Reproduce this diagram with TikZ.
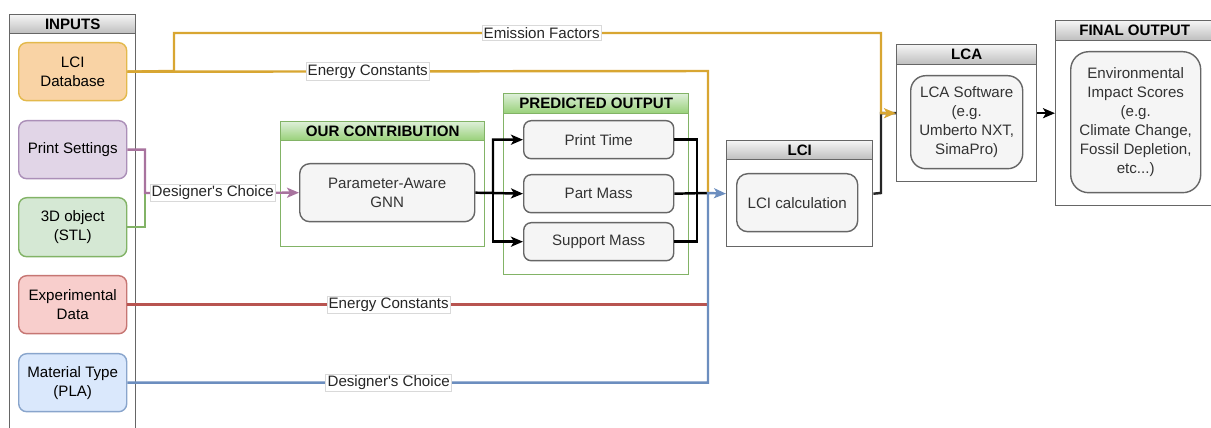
\documentclass[tikz,border=0pt]{standalone}
\usepackage{fontspec}
\setmainfont{Liberation Sans}
\usetikzlibrary{arrows.meta}
\definecolor{orF}{HTML}{F9D3A5}\definecolor{orS}{HTML}{D79B00}
\definecolor{puF}{HTML}{E1D5E7}\definecolor{puS}{HTML}{9673A6}
\definecolor{grF}{HTML}{D5E8D4}\definecolor{grS}{HTML}{82B366}
\definecolor{reF}{HTML}{F8CECC}\definecolor{reS}{HTML}{B85450}
\definecolor{blF}{HTML}{DAE8FC}\definecolor{blS}{HTML}{6C8EBF}
\definecolor{gyF}{HTML}{F5F5F5}\definecolor{gyS}{HTML}{666666}\definecolor{gyT}{HTML}{333333}
\definecolor{hdB}{HTML}{BDBDBD}\definecolor{ghT}{HTML}{DDEFD8}\definecolor{ghB}{HTML}{97D077}
\definecolor{yeL}{HTML}{D8A632}\definecolor{puL}{HTML}{A8739E}
\newcommand{\dfs}{\fontsize{8.6}{10.8}\selectfont}
\begin{document}
\begin{tikzpicture}[x=0.02cm,y=-0.02cm,
  px/.style 2 args={minimum width=#1*0.02cm,minimum height=#2*0.02cm},
  base/.style={anchor=north west,inner sep=0pt,align=center,font=\dfs,line width=0.8pt},
  inp/.style={base,rounded corners=1.6mm,draw},
  gnode/.style={base,draw=gyS,fill=gyF,text=gyT},
  lane/.style={anchor=north west,draw=#1,line width=0.8pt,inner sep=0pt},
  ghdr/.style={anchor=north west,draw=gyS,line width=0.8pt,inner sep=0pt,top color=gyF,bottom color=hdB,font=\dfs\bfseries},
  ohdr/.style={anchor=north west,draw=grS,line width=0.8pt,inner sep=0pt,top color=ghT,bottom color=ghB,font=\dfs\bfseries},
  edge/.style={line width=1.4pt,draw=#1},
  arr/.style={-{Stealth[length=2.4mm,width=2mm,inset=0.6mm]}},
  lbl/.style={fill=white,draw=black!15,line width=0.4pt,inner sep=1pt,font=\dfs,text=black!85}]
\useasboundingbox (0,0) rectangle (1211,428);
\fill[white] (0,0) rectangle (1211,428);
% lanes
\node[lane=gyS,px={126}{420}] (inputs) at (9,14) {};
\node[ghdr,px={126}{19}] (inputsh) at (9,14) {INPUTS};
\node[lane=grS,px={204}{125}] (contrib) at (280,121) {};
\node[ohdr,px={204}{19}] (contribh) at (280,121) {OUR CONTRIBUTION};
\node[lane=grS,px={185}{181}] (pred) at (503,93) {};
\node[ohdr,px={185}{20}] (predh) at (503,93) {PREDICTED OUTPUT};
\node[lane=gyS,px={146}{106}] (lci) at (726,140) {};
\node[ghdr,px={146}{19}] (lcih) at (726,140) {LCI};
\node[lane=gyS,px={140}{137}] (lca) at (896,44) {};
\node[ghdr,px={140}{20}] (lcah) at (896,44) {LCA};
\node[lane=gyS,px={158}{185}] (final) at (1055,20) {};
\node[ghdr,px={158}{20}] (finalh) at (1055,20) {FINAL OUTPUT};
% nodes
\node[inp,draw=orS!70,fill=orF,px={108}{58}] (lcidb) at (18,42) {LCI\\Database};
\node[inp,draw=puS!80,fill=puF,px={108}{58}] (ps) at (18,120) {Print Settings};
\node[inp,draw=grS,fill=grF,px={108}{59}] (obj) at (18,197) {3D object\\(STL)};
\node[inp,draw=reS!80,fill=reF,px={108}{58}] (exp) at (18,275) {Experimental\\Data};
\node[inp,draw=blS!80,fill=blF,px={108}{58}] (mat) at (18,353) {Material Type\\(PLA)};
\node[gnode,rounded corners=2mm,px={175}{58}] (gnn) at (299,163) {Parameter-Aware\\GNN};
\node[gnode,rounded corners=1.5mm,px={150}{38}] (pt) at (523,120) {Print Time};
\node[gnode,rounded corners=1.5mm,px={150}{38}] (pm) at (523,174) {Part Mass};
\node[gnode,rounded corners=1.5mm,px={150}{38}] (sm) at (523,222) {Support Mass};
\node[gnode,rounded corners=2.2mm,px={121}{58}] (lcic) at (736,173) {LCI calculation};
\node[gnode,rounded corners=3mm,px={112}{93}] (lcas) at (910,75) {LCA Software\\(e.g.\\Umberto NXT,\\SimaPro)};
\node[gnode,rounded corners=3.6mm,px={130}{141}] (env) at (1070,51) {Environmental\\Impact Scores\\(e.g.\\Climate Change,\\Fossil Depletion,\\etc...)};
% coordinates
\coordinate (jA) at (174,71);
\coordinate (jB) at (174,33);
\coordinate (jC) at (881,33);
\coordinate (jD) at (708,71);
\coordinate (jE) at (708,193);
\coordinate (jF) at (145,193);
\coordinate (jG) at (493,193);
\coordinate (jH) at (697,193);
\coordinate (jI) at (881,193);
% edges
\draw[edge=grS] (obj.east) -| (jF);
\draw[edge=puL,arr] (ps.east) -| (jF) -- node[lbl,pos=0.44]{Designer\textquotesingle s Choice} (gnn.west);
\draw[edge=black,arr] (gnn.east) -- (jG) |- (pt.west);
\draw[edge=black,arr] (jG) -- (pm.west);
\draw[edge=black,arr] (jG) |- (sm.west);
\draw[edge=black] (pt.east) -| (jH);
\draw[edge=black] (sm.east) -| (jH);
\draw[edge=black] (pm.east) -- (jE);
\draw[edge=yeL] (lcidb.east) -- node[lbl,pos=0.414]{Energy Constants} (jD) -- (jE);
\draw[edge=reS] (exp.east) -- node[lbl,pos=0.45]{Energy Constants} (exp.east -| jE) -- (jE);
\draw[edge=blS,arr] (mat.east) -- node[lbl,pos=0.45]{Designer\textquotesingle s Choice} (mat.east -| jE) -- (jE) -- (lci.west);
\draw[edge=black!85] (lci.east) -- (jI) |- (lca.west);
\draw[edge=yeL,arr] (lcidb.east) -- (jA) -- (jB) -- node[lbl,pos=0.52]{Emission Factors} (jC) |- (lca.west);
\draw[edge=black,arr] (lca.east) -- (final.west);
\end{tikzpicture}
\end{document}
